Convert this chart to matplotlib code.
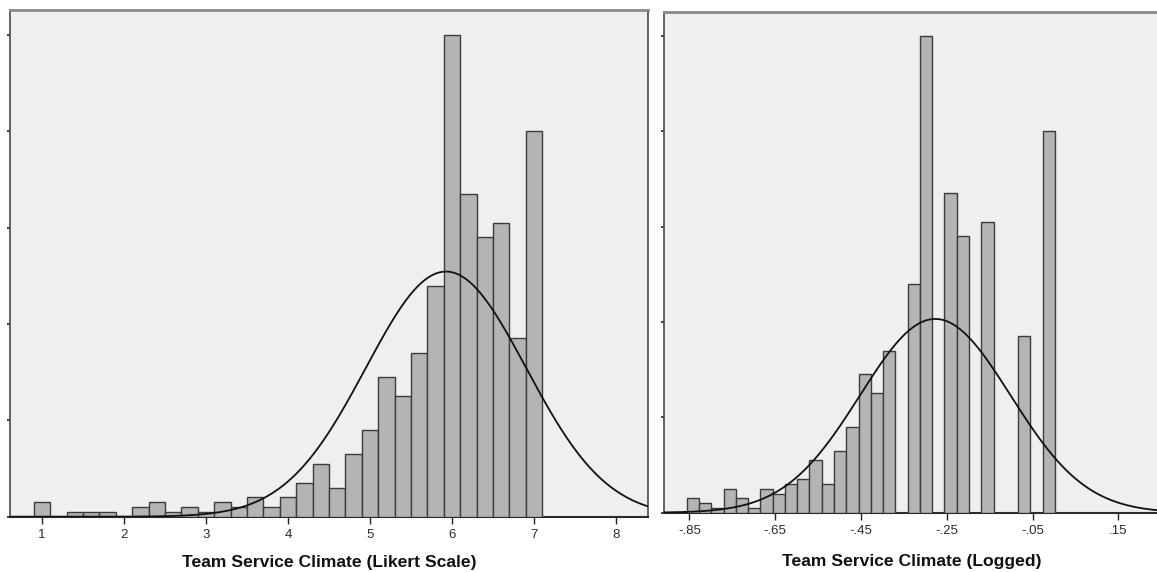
import numpy as np
import matplotlib
matplotlib.use("Agg")
import matplotlib.pyplot as plt

# ---------------- data ----------------
likert_centers = [1.0, 1.2, 1.4, 1.6, 1.8, 2.0, 2.2, 2.4, 2.6, 2.8, 3.0, 3.2, 3.4, 3.6, 3.8,
                  4.0, 4.2, 4.4, 4.6, 4.8, 5.0, 5.2, 5.4, 5.6, 5.8, 6.0, 6.2, 6.4, 6.6, 6.8, 7.0]
likert_counts = [3, 0, 1, 1, 1, 0, 2, 3, 1, 2, 1, 3, 2, 4, 2,
                 4, 7, 11, 6, 13, 18, 29, 25, 34, 48, 100, 67, 58, 61, 37, 80]
likert_bin_width = 0.2
likert_ticks = [1, 2, 3, 4, 5, 6, 7, 8]
likert_tick_labels = ["1", "2", "3", "4", "5", "6", "7", "8"]

logged_bin_start = -0.856
logged_bin_width = 0.0286
logged_counts = [3, 2, 1, 5, 3, 1, 5, 4, 6, 7, 11, 6, 13, 18, 29, 25, 34, 0, 48, 100,
                 0, 67, 58, 0, 61, 0, 0, 37, 0, 80]
logged_ticks = [-0.85, -0.65, -0.45, -0.25, -0.05, 0.15]
logged_tick_labels = ["-.85", "-.65", "-.45", "-.25", "-.05", ".15"]

y_ticks = [0, 20, 40, 60, 80, 100]

titles = ["Team Service Climate (Likert Scale)", "Team Service Climate (Logged)"]

# ---------------- style ----------------
plt.rcParams['font.family'] = ['Liberation Sans', 'DejaVu Sans']
W, H = 1157, 572
fig = plt.figure(figsize=(W / 100, H / 100), dpi=100)
fig.patch.set_facecolor("white")

BG = "#efefef"
BAR = "#b4b4b4"
EDGE = "#3c3c3c"


def px_axes(x0, x1, ytop, ybase):
    return fig.add_axes([x0 / W, (H - ybase) / H, (x1 - x0) / W, (ybase - ytop) / H])


def style(ax, right_spine=True):
    ax.set_facecolor(BG)
    ax.spines["top"].set_color("#8a8a8a")
    ax.spines["top"].set_linewidth(2.0)
    ax.spines["left"].set_color("#4a4a4a")
    ax.spines["left"].set_linewidth(1.2)
    ax.spines["bottom"].set_color("#2a2a2a")
    ax.spines["bottom"].set_linewidth(1.5)
    ax.spines["right"].set_color("#4a4a4a")
    ax.spines["right"].set_linewidth(1.2)
    ax.spines["right"].set_visible(right_spine)
    ax.set_yticks(y_ticks)
    ax.tick_params(axis="y", direction="out", length=2, width=1.2, color="#222222",
                   labelleft=False)
    ax.tick_params(axis="x", direction="out", length=5, width=1.0, color="#222222",
                   labelsize=9.5, labelcolor="#2a2a2a", pad=4)


def normal_curve(ax, centers, counts, bw, xlim):
    c = np.asarray(centers, float)
    n = np.asarray(counts, float)
    N = n.sum()
    mu = np.sum(c * n) / N
    sd = np.sqrt(np.sum(n * (c - mu) ** 2) / (N - 1))
    xs = np.linspace(xlim[0], xlim[1], 600)
    ys = N * bw / (sd * np.sqrt(2 * np.pi)) * np.exp(-0.5 * ((xs - mu) / sd) ** 2)
    ax.plot(xs, ys, color="#111111", lw=1.3, zorder=4)


# ---------------- left panel ----------------
ax1 = px_axes(10, 648, 10, 516.7)
style(ax1)
ax1.bar(likert_centers, likert_counts, width=likert_bin_width, color=BAR,
        edgecolor=EDGE, linewidth=1.0, zorder=3)
xl1 = (0.61, 8.39)
normal_curve(ax1, likert_centers, likert_counts, likert_bin_width, xl1)
ax1.set_xlim(*xl1)
ax1.set_ylim(0, 105.2)
ax1.set_xticks(likert_ticks)
ax1.set_xticklabels(likert_tick_labels)
ax1.set_xlabel(titles[0], fontsize=12.6, fontweight="bold", color="#111111", labelpad=10)

# ---------------- right panel ----------------
ax2 = px_axes(664, 1160, 11.5, 512.7)
style(ax2, right_spine=False)
log_centers = logged_bin_start + logged_bin_width * (np.arange(len(logged_counts)) + 0.5)
ax2.bar(log_centers, logged_counts, width=logged_bin_width, color=BAR,
        edgecolor=EDGE, linewidth=1.0, zorder=3)
xl2 = (-0.909, 0.247)
normal_curve(ax2, log_centers, logged_counts, logged_bin_width, xl2)
ax2.set_xlim(*xl2)
ax2.set_ylim(0, 105.1)
ax2.set_xticks(logged_ticks)
ax2.set_xticklabels(logged_tick_labels)
ax2.set_xlabel(titles[1], fontsize=12.6, fontweight="bold", color="#111111", labelpad=12)

fig.savefig("out.png", dpi=100, facecolor="white")
